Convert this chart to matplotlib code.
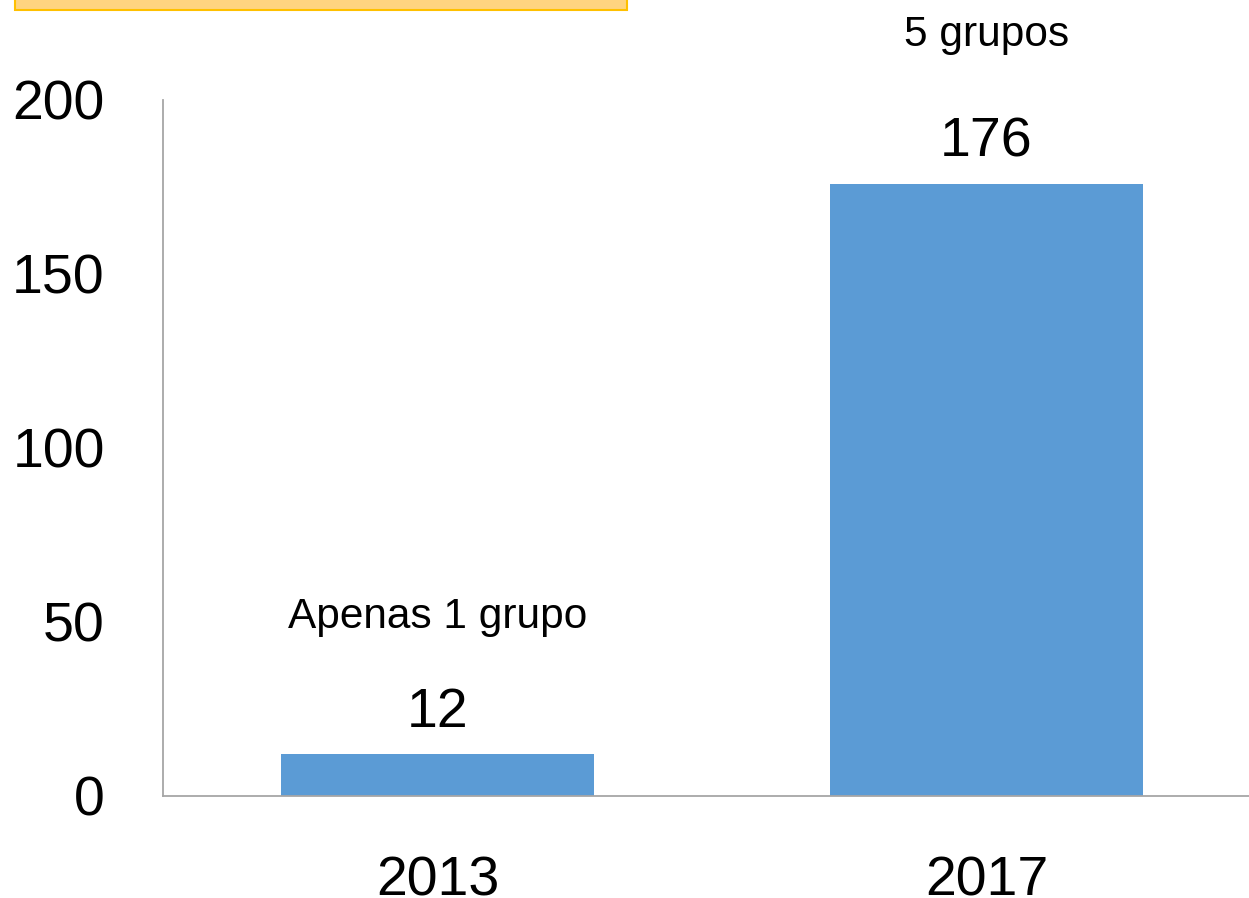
import matplotlib
matplotlib.use('Agg')
import matplotlib.pyplot as plt
from matplotlib.patches import Rectangle

# dados do gráfico
anos = ['2013', '2017']
valores = [12, 176]
grupos = ['Apenas 1 grupo', '5 grupos']
yticks = [0, 50, 100, 150, 200]

plt.rcParams['font.family'] = ['Liberation Sans', 'DejaVu Sans']

fig = plt.figure(figsize=(12.49, 8.98), dpi=100)
ax = fig.add_axes([163 / 1249, 102 / 898, 1 - 163 / 1249, 696 / 898])

x = range(len(anos))
ax.bar(x, valores, width=0.57, color='#5B9BD5')

# rótulos de valor e de grupos
gap_grupo = [91, 99]
for i, v in enumerate(valores):
    ax.annotate(str(v), (i, v), xytext=(0, 19.5), textcoords='offset points',
                ha='center', va='baseline', fontsize=40, annotation_clip=False)
    ax.annotate(grupos[i], (i, v), xytext=(0, gap_grupo[i]), textcoords='offset points',
                ha='center', va='baseline', fontsize=30.5, annotation_clip=False)

ax.set_xlim(-0.5, 1.478)
ax.set_ylim(0, 200)
ax.set_yticks(yticks)
ax.set_xticks(list(x))
ax.set_xticklabels(anos)
ax.tick_params(axis='both', length=0, labelsize=40)
ax.tick_params(axis='y', pad=42)
ax.tick_params(axis='x', pad=43)

for s in ['top', 'right']:
    ax.spines[s].set_visible(False)
for s in ['left', 'bottom']:
    ax.spines[s].set_color('#A6A6A6')
    ax.spines[s].set_linewidth(1.3)

# caixa laranja cortada no topo
fig.patches.append(Rectangle((15 / 1249, 1 - 10 / 898), 612 / 1249, 0.05,
                             transform=fig.transFigure, facecolor='#FFD480',
                             edgecolor='#FFC000', linewidth=1.5, clip_on=False))

fig.savefig('out.png', dpi=100)
